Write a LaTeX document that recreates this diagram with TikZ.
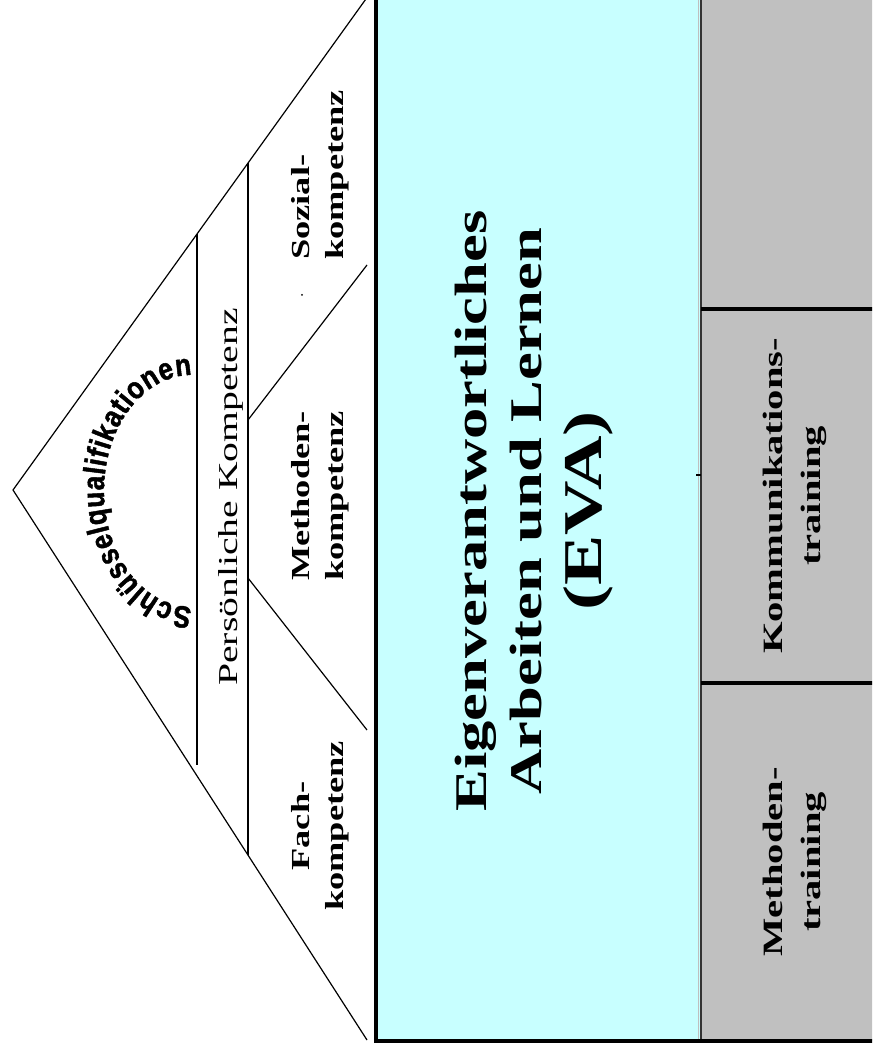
\documentclass[tikz,border=0pt]{standalone}
\usepackage{fontspec}
\setmainfont{Liberation Serif}
\newfontfamily\archfont[FakeStretch=0.85,FakeBold=1.5]{Liberation Sans}
\newfontfamily\wideA[FakeStretch=1.40]{Liberation Serif}
\newfontfamily\wideB[FakeStretch=1.45]{Liberation Serif}
\newfontfamily\wideC[FakeStretch=1.38]{Liberation Serif}
\usetikzlibrary{decorations.text}
\definecolor{evacyan}{RGB}{200,255,255}
\definecolor{basegray}{RGB}{192,192,192}
\tikzset{
  roofline/.style={line width=0.9pt, black},
  boxline/.style={line width=2.3pt, black},
  comptext/.style={rotate=90, align=center, inner sep=0pt,
    font=\wideA\bfseries\fontsize{19.5}{25.5}\selectfont},
  perstext/.style={rotate=90, inner sep=0pt,
    font=\wideB\fontsize{20.5}{24}\selectfont},
  maintext/.style={rotate=90, align=center, inner sep=0pt,
    font=\wideC\bfseries\fontsize{34}{41}\selectfont},
  basetext/.style={rotate=90, align=center, inner sep=0pt,
    font=\wideB\bfseries\fontsize{21}{28}\selectfont},
}
\begin{document}
\begin{tikzpicture}[x=0.75pt,y=0.75pt]
\clip (0,0) rectangle (872,1053);
% house body
\fill[evacyan] (376,12) rectangle (701,1080);
\fill[basegray] (701,12) rectangle (900,1080);
\draw[line width=1pt, black!25] (698.5,12) -- (698.5,1080);
\draw[line width=1.5pt, black!80] (701,12) -- (701,1080);
\draw[boxline] (376,1080) -- (376,12) -- (900,12);
\draw[boxline] (701,370) -- (900,370);
\draw[boxline] (701,744) -- (900,744);
\draw[line width=0.8pt] (696,578) -- (701,578);
% roof
\coordinate (apex) at (13,563);
\coordinate (roofU) at (376,1068);
\coordinate (roofL) at (367,13);
\draw[roofline] (roofU) -- (apex) -- (roofL);
\draw[roofline] (197,819) -- (197,288);
\draw[roofline] (248,890) -- (248,198);
\draw[roofline] (248,633) -- (367,788);
\draw[roofline] (248,475) -- (367,323);
\fill (302,758) circle (1);
% texts
\node[comptext] (fach) at (320,227) {Fach-\\kompetenz};
\node[comptext] (meth) at (320,557) {Methoden-\\kompetenz};
\node[comptext, align=left] (sozial) at (320,878) {Sozial-\\kompetenz};
\node[perstext] (pers) at (231,556) {Persönliche Kompetenz};
\node[maintext] (eva) at (534,542) {Eigenverantwortliches\\Arbeiten und Lernen\\[4pt]{\fontsize{41}{41}\selectfont(EVA)}};
\node[basetext] (mtrain) at (795,191) {Methoden-\\training};
\node[basetext] (ktrain) at (795,557) {Kommunikations-\\training};
\path[decorate, decoration={text along path,
  text={|\archfont\bfseries\fontsize{23}{23}\selectfont|Schlüsselqualifikationen},
  text align={fit to path}}]
  (192,446) arc[start angle=270, end angle=90, x radius=88, y radius=116];
\end{tikzpicture}
\end{document}
